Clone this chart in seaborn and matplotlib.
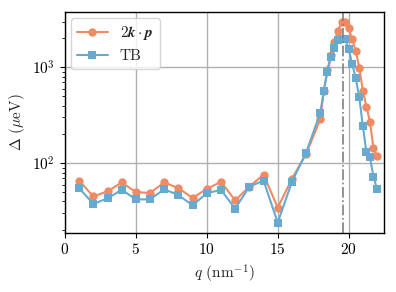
import matplotlib
matplotlib.use('Agg')
import matplotlib.pyplot as plt
import pandas as pd
import seaborn as sns

# wave vector q (nm^-1): integer steps, then a finer grid over the peak
q = [1, 2, 3, 4, 5, 6, 7, 8, 9, 10, 11, 12, 13, 14, 15, 16, 17,
     18, 18.25, 18.5, 18.75, 19, 19.25, 19.5, 19.75, 20,
     20.25, 20.5, 20.75, 21, 21.25, 21.5, 21.75, 22]

# gap Delta (ueV) from the 2k.p model
delta_kp = [66, 45, 51, 63, 50, 49, 63, 55, 43.5, 54, 64, 41, 57, 76, 34.5, 68.6, 125,
            287, 570, 940, 1340, 1850, 2400, 2990, 2990, 2550,
            1960, 1480, 990, 570, 390, 271, 143, 119]

# gap Delta (ueV) from tight binding
delta_tb = [55, 37.7, 43, 53, 42, 42, 53.5, 46.5, 36.5, 48.7, 52.7, 33.7, 57, 66, 24, 64, 129,
            336, 570, 900, 1270, 1600, 1920, 1960, 1960, 1550,
            1080, 770, 487, 245, 130, 115, 72.5, 53.6]

q_mark = 19.58

df = pd.DataFrame({'q': q, 'kp': delta_kp, 'tb': delta_tb})

sns.set_style('ticks')
plt.rcParams['font.family'] = 'serif'
plt.rcParams['font.serif'] = ['cmr10', 'DejaVu Serif']
plt.rcParams['mathtext.fontset'] = 'cm'
plt.rcParams['axes.formatter.use_mathtext'] = True
plt.rcParams['font.size'] = 11
plt.rcParams['axes.edgecolor'] = 'black'
plt.rcParams['xtick.color'] = 'black'
plt.rcParams['ytick.color'] = 'black'
plt.rcParams['axes.linewidth'] = 1.0

fig = plt.figure(figsize=(3.96, 2.92), dpi=100)
ax = fig.add_axes([0.164, 0.203, 0.806, 0.757])

sns.lineplot(data=df, x='q', y='kp', ax=ax, color='#ef8a62', marker='o',
             markersize=6, markeredgewidth=0, lw=1.5, label=r'$2\boldsymbol{k}\cdot\boldsymbol{p}$')
sns.lineplot(data=df, x='q', y='tb', ax=ax, color='#67a9cf', marker='s',
             markersize=6, markeredgewidth=0, lw=1.5, label='TB')
ax.axvline(q_mark, color='gray', ls='-.', lw=1.2)

ax.set_yscale('log')
ax.set_xlim(0, 22.5)
ax.set_xticks([0, 5, 10, 15, 20])
ax.grid(True, which='major', color='#b0b0b0', lw=1)
ax.set_xlabel(r'$q$ (nm$^{-1}$)')
ax.set_ylabel(r'$\Delta$ ($\mu$eV)')
ax.legend(loc='upper left', borderaxespad=0.4)

fig.savefig('out.png', dpi=100)
